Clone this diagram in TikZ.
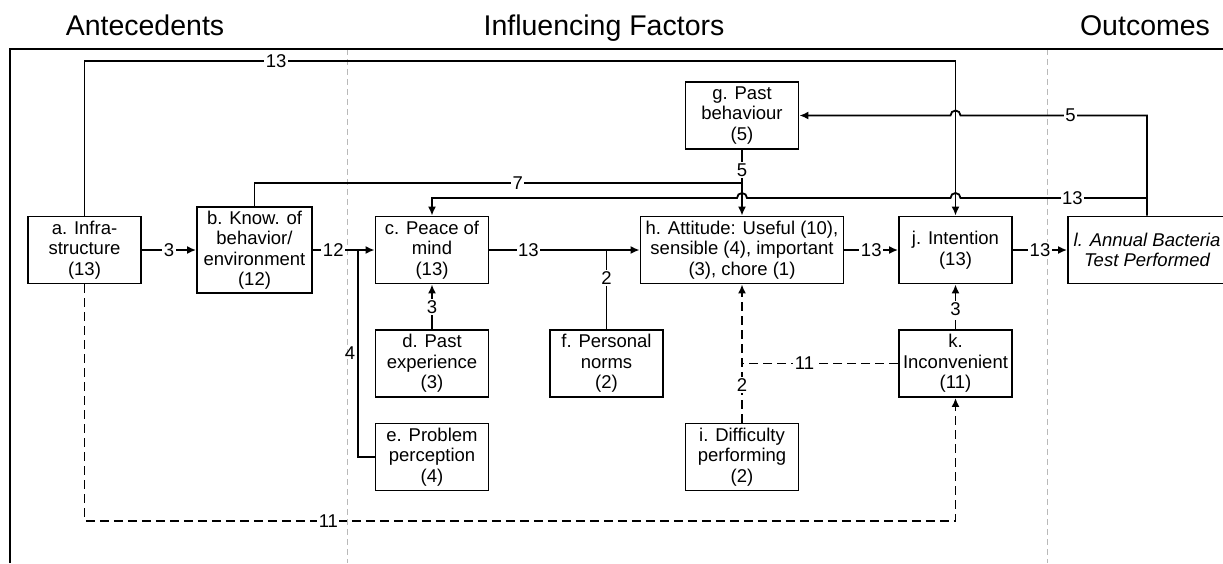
\documentclass[tikz,border=0pt]{standalone}
\usepackage{fontspec}
\setmainfont{Liberation Sans}
\usetikzlibrary{positioning, arrows.meta}

\begin{document}
\begin{tikzpicture}[x=1pt, y=-1pt, >={Latex[length=9pt,width=8pt]}, line width=1.8pt,
    font=\fontsize{18.5}{20.5}\selectfont,
    box/.style={draw, align=center, inner sep=1pt, minimum width=113pt, minimum height=67pt},
    lbl/.style={fill=white, inner sep=1.5pt},
    dsh/.style={dash pattern=on 9pt off 5pt},
    head/.style={font=\fontsize{28.5}{32}\selectfont, anchor=base}]
\useasboundingbox (0,0) rectangle (1223,563);

% columns and frame
\draw[line width=0.9pt, gray!55, dash pattern=on 6pt off 4pt] (347,49) -- (347,563) (1047,49) -- (1047,563);
\draw (10,563) -- (10,49) -- (1223,49);
\node[head] (hant) at (145,35) {Antecedents};
\node[head] (hinf) at (604,35) {Influencing Factors};
\node[head] (hout) at (1145,35) {Outcomes};

% factors
\node[box] (infra) at (84.5,250) {a. Infra-\\structure\\(13)};
\node[box, minimum width=115pt, minimum height=86pt] (know) at (254.5,250) {b. Know. of\\behavior/\\environment\\(12)};
\node[box] (peace) at (432,250) {c. Peace of\\mind\\(13)};
\node[box] (past) at (432,363.5) {d. Past\\experience\\(3)};
\node[box] (prob) at (432,457) {e. Problem\\perception\\(4)};
\node[box] (pers) at (606.5,363.5) {f. Personal\\norms\\(2)};
\node[box] (beh) at (742,115.5) {g. Past\\behaviour\\(5)};
\node[box, minimum width=203pt] (att) at (742,250) {h. Attitude: Useful (10),\\sensible (4), important\\(3), chore (1)};
\node[box] (diff) at (742,457) {i. Difficulty\\performing\\(2)};
\node[box] (intent) at (955.5,250) {j. Intention\\(13)};
\node[box] (inc) at (955.5,363.5) {k.\\Inconvenient\\(11)};
\node[box, minimum width=158pt, font=\fontsize{18.5}{20.5}\selectfont\itshape] (test) at (1147,250) {l. Annual Bacteria\\Test Performed};

\coordinate (y61) at (0,61);
\coordinate (y183) at (0,183);
\coordinate (y198) at (0,198);
\coordinate (y521) at (0,521);
\coordinate (x358) at (358,0);

% main row
\draw[->] (infra) -- node[lbl]{3} (know);
\draw[->] (know) -- node[lbl, pos=0.33]{12} (peace);
\draw[->] (peace) -- node[lbl, pos=0.26]{13} (att);
\draw[->] (att) -- node[lbl]{13} (intent);
\draw[->] (intent) -- node[lbl]{13} (test);

% feeders
\draw[->] (past) -- node[lbl]{3} (peace);
\draw (prob.west) -| node[pos=0.75, left=1pt, inner sep=1pt]{4} (x358 |- peace.east);
\draw (pers) -- node[lbl, pos=0.65]{2} (pers |- peace.east);
\draw[->] (beh) -- node[lbl, pos=0.31]{5} (att);
\draw (know) |- node[lbl, pos=0.77]{7} (beh |- y183);

% long loops
\draw[->] (infra) |- node[lbl, pos=0.61]{13} (y61 -| intent) -- (intent);
\draw[->] (test.north) -- (test.north |- beh.east) -- node[lbl, pos=0.41]{5} (960.5,115.5)
    arc[start angle=0, end angle=-180, radius=5] -- (beh.east);
\draw[->] (test.north |- y198) -- node[lbl, pos=0.4]{13} (960.5,198)
    arc[start angle=0, end angle=-180, radius=5] -- (747,198)
    arc[start angle=0, end angle=-180, radius=5] -- (peace.north |- y198) -- (peace.north);

% dashed
\draw[->, dsh] (diff) -- node[lbl, pos=0.27]{2} (att);
\draw[dsh] (inc) -- node[lbl, pos=0.6]{11} (inc -| diff);
\draw[->, dsh] (inc) -- node[lbl, pos=0.45]{3} (intent);
\draw[->, dsh] (infra) |- node[lbl, pos=0.64]{11} (inc |- y521) -- (inc);
\end{tikzpicture}
\end{document}
